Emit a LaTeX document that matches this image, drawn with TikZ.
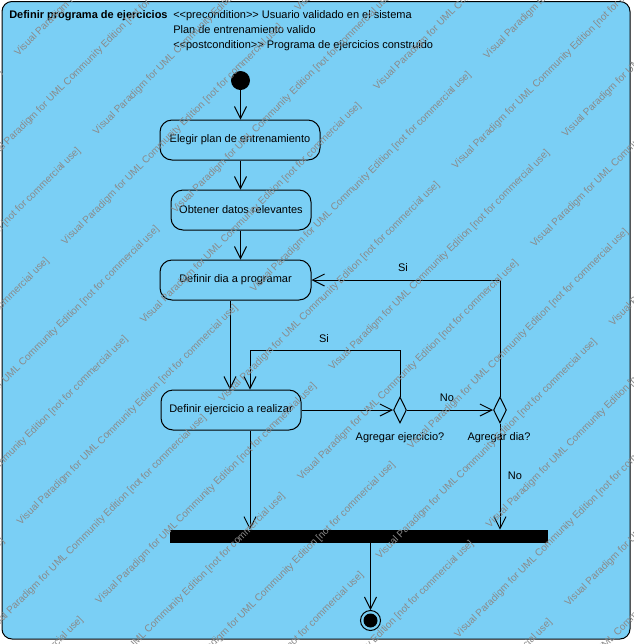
\documentclass[tikz,border=0pt]{standalone}
\usepackage{fontspec}
\setmainfont{Liberation Sans}
\usetikzlibrary{arrows.meta,shapes.geometric,calc}
\definecolor{actblue}{RGB}{122,207,245}
\definecolor{wmgray}{RGB}{138,138,138}
\begin{document}
\begin{tikzpicture}[x=0.75pt,y=-0.75pt,
  every node/.style={font=\fontsize{8.25}{10}\selectfont, inner sep=0pt},
  act/.style={draw, rounded corners=9pt, fill=actblue, minimum height=30pt, line width=0.75pt},
  flow/.style={-{Straight Barb[length=9pt,width=9pt]}, line width=0.75pt},
  decision/.style={draw, diamond, aspect=0.5, minimum width=9.75pt, minimum height=19.5pt, fill=actblue, line width=0.75pt},
  wm/.style={text=wmgray, font=\fontsize{7.5}{9}\selectfont, rotate=45, anchor=base west}
]
\clip (0,0) rectangle (634,644);
\fill[white] (0,0) rectangle (634,644);
% activity frame
\draw[fill=actblue, line width=0.75pt, rounded corners=7.5pt] (2,1.5) rectangle (630,639);

% header
\node[anchor=base west, font=\bfseries\fontsize{8.25}{10}\selectfont] (title) at (9,18.5) {Definir programa de ejercicios};
\node[anchor=base west] (pre) at (173,18.5) {{<}{<}precondition{>}{>} Usuario validado en el sistema};
\node[anchor=base west] (plan) at (173,33.5) {Plan de entrenamiento valido};
\node[anchor=base west] (post) at (173,48.5) {{<}{<}postcondition{>}{>} Programa de ejercicios construido};

% nodes
\node[circle, fill=black, minimum size=14.25pt] (init) at (240.5,80.5) {};
\node[act, minimum width=120pt] (elegir) at (240,140) {Elegir plan de entrenamiento};
\node[act, minimum width=105pt] (obtener) at (241,210) {Obtener datos relevantes};
\node[act, minimum width=113.25pt] (dia) at (235.5,280) {Definir dia a programar};
\node[act, minimum width=105pt] (ejer) at (231,410) {Definir ejercicio a realizar};
\node[decision] (d1) at (400,410) {};
\node[decision] (d2) at (500,410) {};
\node[fill=black, minimum width=283.5pt, minimum height=9.75pt] (bar) at (359,536.5) {};
\node[circle, draw, line width=0.75pt, minimum size=15pt] (final) at (370.5,620.5) {};
\node[circle, fill=black, minimum size=10.5pt] (finalin) at (final.center) {};

% labels
\node (ld1) at (400,438) {Agregar ejercicio?};
\node (ld2) at (499,438) {Agregar dia?};
\node (si1) at (324,339) {Si};
\node (si2) at (403,268) {Si};
\node (no1) at (447,398) {No};
\node (no2) at (515,476) {No};

% helper columns
\coordinate (xa) at (230,0);
\coordinate (xb) at (250,350);

% flows
\draw[flow] (init) -- (init |- elegir.north);
\draw[flow] (elegir.south -| init) -- (obtener.north -| init);
\draw[flow] (obtener.south -| init) -- (dia.north -| init);
\draw[flow] (dia.south -| xa) -- (ejer.north -| xa);
\draw[flow] (ejer.east) -- (d1.west);
\draw[flow] (d1.east) -- (d2.west);
\draw[flow] (d1.north) |- (xb) -- (ejer.north -| xb);
\draw[flow] (d2.north) |- (dia.east);
\draw[flow] (d2.south) -- (d2.south |- bar.north);
\draw[flow] (ejer.south -| xb) -- (bar.north -| xb);
\draw[flow] (bar.south -| final) -- (final.north);

% edition watermark
\foreach \k in {-3,...,14}{
  \foreach \j in {-4,...,3}{
    \pgfmathsetmacro\uu{232+78.6*\k}
    \pgfmathsetmacro\ss{(mod(abs(\k),2)==0 ? -38.5 : -180)+466.5*\j}
    \node[wm] (wm-\k-\j) at ({(\uu+\ss)/2},{(\uu-\ss)/2}) {Visual Paradigm for UML Community Edition [not for commercial use]};
  }
}
\end{tikzpicture}
\end{document}
